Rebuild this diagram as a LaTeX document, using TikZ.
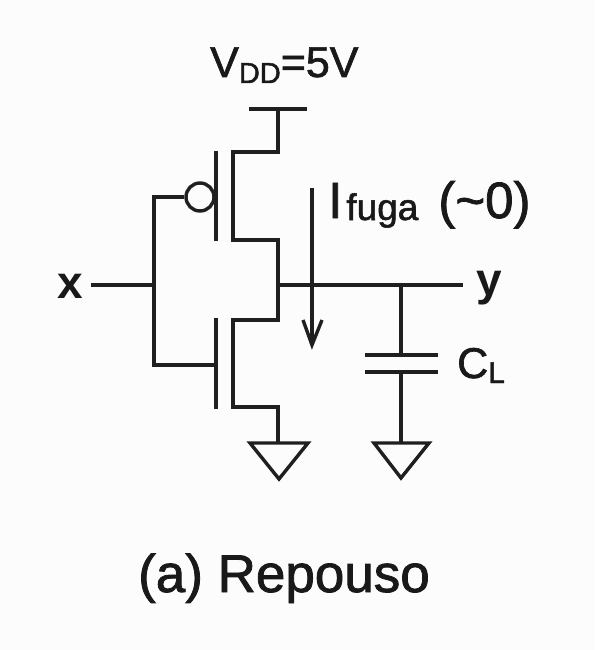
\documentclass[tikz,border=0pt]{standalone}
\usepackage{fontspec}
\setmainfont{Liberation Sans}
\newfontfamily\heavyfont[FakeBold=1.5]{Liberation Sans}
\begin{document}
\begin{tikzpicture}[x=1pt,y=-1pt,
  wire/.style={draw=black!88,line width=3.4pt,line cap=butt,line join=miter},
  lbl/.style={inner sep=0pt,text=black!90,font=\heavyfont\fontsize{43}{45}\selectfont},
  biglbl/.style={lbl,font=\heavyfont\fontsize{53}{55}\selectfont},
  termlbl/.style={lbl,font=\fontsize{46}{48}\selectfont\bfseries}]
\useasboundingbox[fill=black!1] (0,0) rectangle (594,650);
% junction and terminal coordinates
\coordinate (vl) at (249,109); \coordinate (vr) at (307,109); \coordinate (vm) at (278,109);
\coordinate (pd) at (278,152); \coordinate (pc) at (233,152); \coordinate (pe) at (233,240);
\coordinate (ps) at (278,240); \coordinate (out) at (278,285);
\coordinate (nd) at (278,320); \coordinate (nc) at (233,320); \coordinate (ne) at (233,407);
\coordinate (ns) at (278,407); \coordinate (g1) at (278,443);
\coordinate (pgt) at (216,151); \coordinate (pgb) at (216,241);
\coordinate (ngt) at (216,318); \coordinate (ngb) at (216,409);
\coordinate (ngi) at (216,365); \coordinate (gc) at (154,365); \coordinate (gt) at (154,197);
\coordinate (gj) at (154,285); \coordinate (xe) at (91,285); \coordinate (ye) at (463,285);
\coordinate (cj) at (401,285); \coordinate (ct) at (401,355); \coordinate (cb) at (401,372);
\coordinate (g2) at (401,443);
\coordinate (c1l) at (365,355); \coordinate (c1r) at (438,355);
\coordinate (c2l) at (365,372); \coordinate (c2r) at (438,372);
\coordinate (as) at (312,188); \coordinate (ae) at (312,345);
\coordinate (awl) at (303,320); \coordinate (awr) at (322,320);
% supply and transistor channels
\draw[wire] (vl) -- (vr);
\draw[wire] (vm) -- (pd) -- (pc) -- (pe) -- (ps) -- (nd) -- (nc) -- (ne) -- (ns) -- (g1);
% gates
\draw[wire] (pgt) -- (pgb);
\draw[wire] (ngt) -- (ngb);
\node[draw=black!88,line width=3.4pt,circle,minimum size=28pt,inner sep=0pt] (bub) at (200,197) {};
\draw[wire] (bub.west) -- (gt) -- (gc) -- (ngi);
\draw[wire] (xe) -- (gj);
% output
\draw[wire] (out) -- (ye);
\draw[wire] (cj) -- (ct);
\draw[wire] (c1l) -- (c1r);
\draw[wire] (c2l) -- (c2r);
\draw[wire] (cb) -- (g2);
% grounds
\draw[wire] (250,443) -- (308,443) -- (279,479) -- cycle;
\draw[wire] (374,443) -- (429,443) -- (401,478) -- cycle;
% current arrow
\draw[wire] (as) -- (ae);
\draw[wire] (awl) -- (ae) -- (awr);
% labels
\node[lbl,anchor=base west] (vdd) at (210,77) {V\raisebox{-6pt}{\fontsize{29}{30}\selectfont DD}=5V};
\node[termlbl,anchor=base] (xl) at (70,298) {x};
\node[termlbl,anchor=base] (yl) at (489,295) {y};
\node[lbl,font=\heavyfont\fontsize{51}{53}\selectfont,anchor=base west] (ifg) at (328,218) {I\kern 4pt\raisebox{-2pt}{\fontsize{37}{38}\selectfont fuga}\kern 20pt(\textasciitilde 0)};
\node[lbl,anchor=base west] (cl) at (457,378) {C\raisebox{-5pt}{\fontsize{30}{31}\selectfont L}};
\node[biglbl,anchor=base west] (cap) at (138,592) {(a) Repouso};
\end{tikzpicture}
\end{document}
